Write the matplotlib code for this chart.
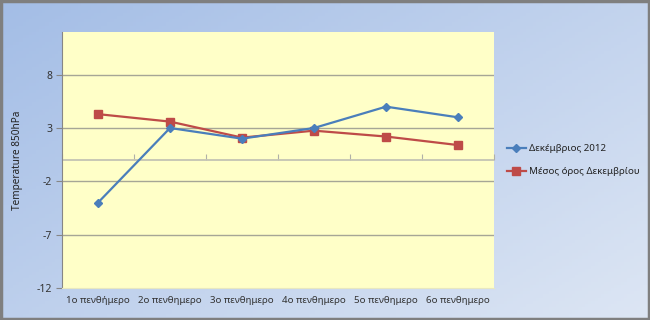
import numpy as np
import matplotlib
matplotlib.use("Agg")
import matplotlib.pyplot as plt
from matplotlib.patches import Rectangle

plt.rcParams['font.family'] = ['Noto Sans', 'DejaVu Sans']
plt.rcParams['axes.unicode_minus'] = False

categories = ["1ο πενθήμερο", "2ο πενθημερο", "3ο πενθημερο",
              "4ο πενθημερο", "5ο πενθημερο", "6ο πενθημερο"]
dec2012 = [-4.0, 3.0, 2.0, 3.0, 5.0, 4.0]
dec_mean = [4.3, 3.6, 2.1, 2.75, 2.2, 1.4]
yticks = [-12, -7, -2, 3, 8]
series_names = ["Δεκέμβριος 2012", "Μέσος όρος Δεκεμβρίου"]
ylabel = "Temperature 850hPa"

fig = plt.figure(figsize=(6.5, 3.2), dpi=100)

# background gradient
bg = fig.add_axes([0, 0, 1, 1], zorder=-10)
bg.set_axis_off()
nx, ny = 200, 100
xx, yy = np.meshgrid(np.linspace(0, 1, nx), np.linspace(0, 1, ny))
t = np.clip(0.55 * xx + 0.45 * yy, 0, 1)
c0 = np.array([0xa3, 0xbd, 0xe6]) / 255
c1 = np.array([0xdd, 0xe6, 0xf4]) / 255
img = c0[None, None, :] * (1 - t[..., None]) + c1[None, None, :] * t[..., None]
bg.imshow(img, aspect='auto', extent=[0, 1, 0, 1], origin='upper')
bg.set_xlim(0, 1)
bg.set_ylim(0, 1)
fig.patches.append(Rectangle((0.0015, 0.004), 0.997, 0.993, transform=fig.transFigure,
                             fill=False, edgecolor='#7f7f7f', linewidth=2.5))

ax = fig.add_axes([62 / 650, 1 - 288 / 320, (494 - 62) / 650, (288 - 32) / 320])
ax.set_facecolor('#ffffc8')
x = np.arange(len(categories))
ymin, ymax = -12, 12
ax.set_xlim(-0.5, len(categories) - 0.5)
ax.set_ylim(ymin, ymax)

for yv in yticks[1:]:
    ax.axhline(yv, color='#a6a696', linewidth=1.0, zorder=1)

ax.plot(x, dec2012, color='#4a7ebb', linewidth=1.6, marker='D', markersize=4,
        label=series_names[0], zorder=4)
ax.plot(x, dec_mean, color='#be4b48', linewidth=1.6, marker='s', markersize=5.5,
        label=series_names[1], zorder=3)

ax.set_yticks(yticks)
ax.tick_params(axis='y', length=4, color='#868686', labelsize=7.5, labelcolor='#333333', pad=3)
ax.set_ylabel(ylabel, fontsize=7.2, color='#222222', labelpad=10)

# category labels along the bottom
ax.set_xticks(x)
ax.set_xticklabels(categories)
ax.tick_params(axis='x', length=0, labelsize=7, labelcolor='#333333', pad=6)

for s in ['top', 'right']:
    ax.spines[s].set_visible(False)
ax.spines['bottom'].set_color('#e8e8c0')
ax.spines['left'].set_color('#868686')

# x-axis line crossing at zero with tick marks between categories
ax.axhline(0, color='#c4c4b4', linewidth=1.3, zorder=1)
zero_frac = (0 - ymin) / (ymax - ymin)
sec = ax.secondary_xaxis(zero_frac)
sec.set_xticks(np.arange(-0.5, len(categories) + 0.5, 1.0))
sec.set_xticklabels([])
sec.tick_params(axis='x', length=4, color='#b0b0a8', direction='out')
for sp in sec.spines.values():
    sp.set_visible(False)

leg = ax.legend(loc='center left', bbox_to_anchor=(1.0, 0.5), frameon=False,
                fontsize=7, handlelength=2.0, handletextpad=0.3,
                labelspacing=1.45, borderaxespad=0.9)
for txt in leg.get_texts():
    txt.set_color('#222222')

fig.savefig("out.png", dpi=100)
